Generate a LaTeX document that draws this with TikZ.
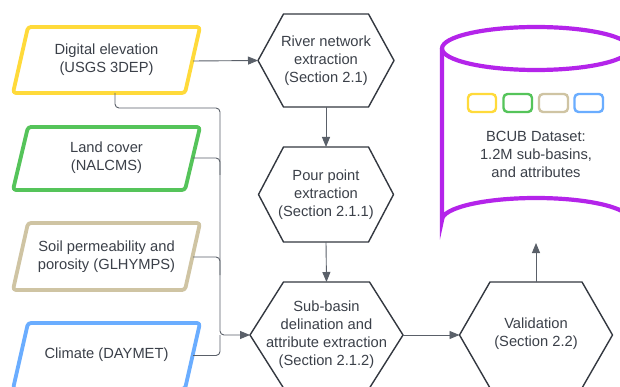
\documentclass[tikz,border=0pt]{standalone}
\usepackage{fontspec}
\setmainfont{Liberation Sans}
\usetikzlibrary{arrows.meta}
\definecolor{cyel}{HTML}{FFDA3A}
\definecolor{cgrn}{HTML}{55C45A}
\definecolor{ctan}{HTML}{CFC4A3}
\definecolor{cblu}{HTML}{6AADFF}
\definecolor{cpur}{HTML}{B424EA}
\definecolor{ctext}{HTML}{3B4049}
\definecolor{chex}{HTML}{333840}
\definecolor{cconn}{HTML}{5A6069}
\newcommand\mypara[3]{%
  \draw[parabox, draw=#3] (28,#1) -- (200,#1) -- (185,#2) -- (13,#2) -- cycle;}
\newcommand\myhex[6]{%
  \draw[hexbox] ({#2-#4},#3) -- ({#2-#6},{#3-#5}) -- ({#2+#6},{#3-#5}) -- ({#2+#4},#3)
     -- ({#2+#6},{#3+#5}) -- ({#2-#6},{#3+#5}) -- cycle;
  \coordinate (#1-w) at ({#2-#4},#3);
  \coordinate (#1-e) at ({#2+#4},#3);
  \coordinate (#1-n) at (#2,{#3-#5});
  \coordinate (#1-s) at (#2,{#3+#5});}
\begin{document}
\begin{tikzpicture}[x=1pt,y=-1pt,
  lbl/.style={font=\fontsize{14.7}{18}\selectfont, align=center, text=ctext, inner sep=0pt},
  parabox/.style={line width=3.8pt, rounded corners=3pt, line join=round},
  hexbox/.style={draw=chex, line width=1.4pt, line join=round},
  conn/.style={draw=cconn, line width=0.9pt},
  arr/.style={-{Triangle[length=10pt,width=8pt]}},
  minibox/.style={line width=2.4pt, rounded corners=4pt}]
\useasboundingbox (0,0) rectangle (620,387);
\clip (0,0) rectangle (620,387);
\fill[white] (0,0) rectangle (620,387);

% input parallelograms
\mypara{27}{93}{cyel}
\mypara{127}{190}{cgrn}
\mypara{223}{290}{ctan}
\mypara{323}{389}{cblu}
\node[lbl] (dem) at (106.5,60) {Digital elevation\\(USGS 3DEP)};
\node[lbl] (land) at (106.5,158) {Land cover\\(NALCMS)};
\node[lbl] (soil) at (106.5,256.5) {Soil permeability and\\porosity (GLHYMPS)};
\node[lbl] (clim) at (106.5,355) {Climate (DAYMET)};

\coordinate (demS) at (115,93);
\coordinate (demE) at (193,61);
\coordinate (landE) at (192.5,158);
\coordinate (soilE) at (193,257);
\coordinate (climE) at (193,355.5);
\coordinate (j1) at (220,108);
\coordinate (j2) at (220,335);
\coordinate (jland) at (220,175);
\coordinate (jsoil) at (220,275);

% hexagons
\myhex{riv}{326}{60.5}{68}{46.5}{42.5}
\myhex{pour}{326}{194.5}{67.5}{47.5}{42.5}
\myhex{sub}{326.5}{335}{76.5}{53}{43}
\myhex{val}{536}{335}{76.5}{53}{46}
\node[lbl] (rivt) at (326,60.5) {River network\\extraction\\(Section 2.1)};
\node[lbl] (pourt) at (326,194.5) {Pour point\\extraction\\(Section 2.1.1)};
\node[lbl] (subt) at (326.5,335) {Sub-basin\\delination and\\attribute extraction\\(Section 2.1.2)};
\node[lbl] (valt) at (536,333.5) {Validation\\(Section 2.2)};

% cylinder
\draw[cpur, line width=4.2pt] (536,48.5) ellipse [x radius=94, y radius=21.5];
\draw[cpur, line width=4.2pt] (442,48.5) -- (442,220) arc[start angle=180, end angle=360, x radius=94, y radius=22] -- (630,48.5);
\coordinate (cyl-s) at (536,242);
\draw[minibox, cyel] (468,94) rectangle (496,112);
\draw[minibox, cgrn] (503.5,94) rectangle (532,112);
\draw[minibox, ctan] (539,94) rectangle (568,112);
\draw[minibox, cblu] (574.5,94) rectangle (603,112);
\node[lbl] (bcub) at (536,154) {BCUB Dataset:\\1.2M sub-basins,\\and attributes};

% connectors
\draw[conn, arr] (demE) -- (riv-w);
\draw[conn, arr] (riv-s) -- (pour-n);
\draw[conn, arr] (pour-s) -- (sub-n);
\draw[conn, arr] (sub-e) -- (val-w);
\draw[conn, arr] (val-n) -- ([yshift=-1pt]cyl-s);
\draw[conn, arr, rounded corners=4pt] (demS) |- (j1) -- (j2) -- (sub-w);
\draw[conn, rounded corners=4pt] (landE) -| (jland);
\draw[conn, rounded corners=4pt] (soilE) -| (jsoil);
\draw[conn, rounded corners=4pt] (climE) -| (j2);
\end{tikzpicture}
\end{document}
